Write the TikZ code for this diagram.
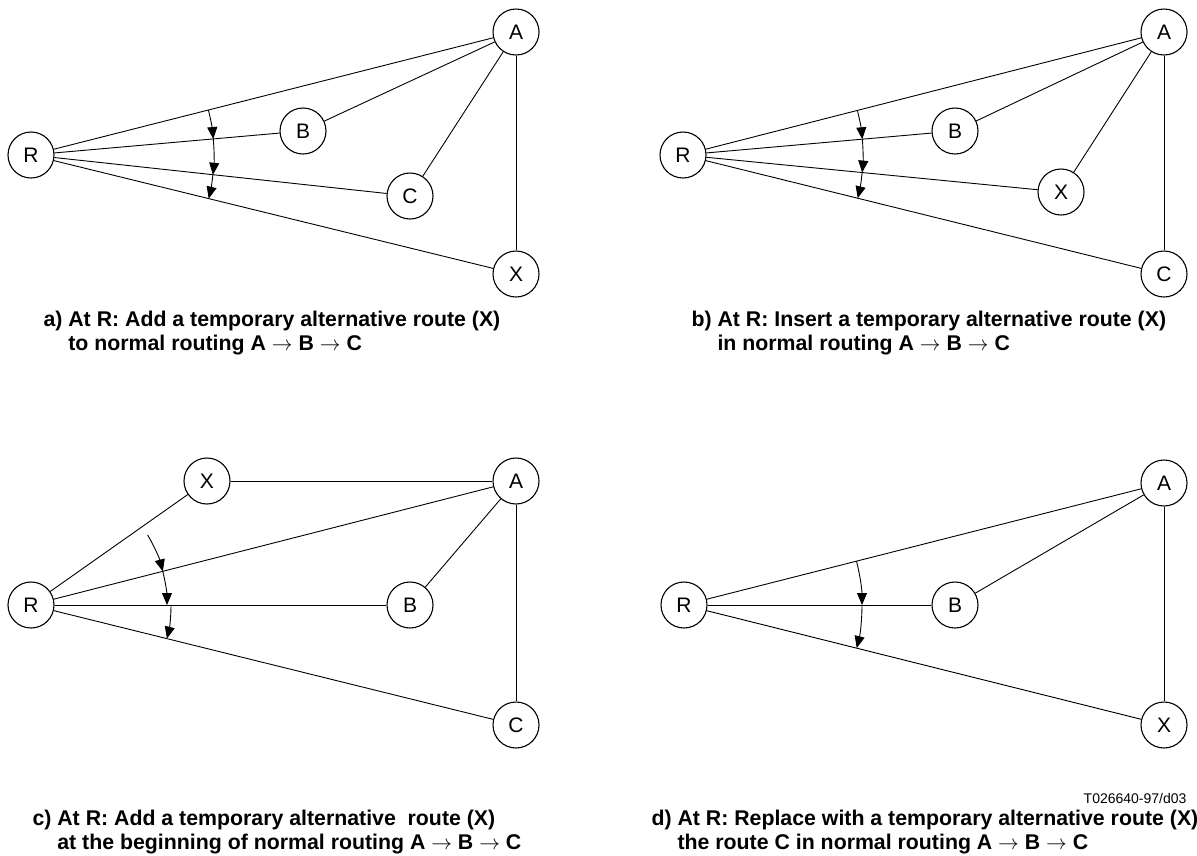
\documentclass[tikz,border=0pt]{standalone}
\usepackage{fontspec}
\setmainfont{Liberation Sans}
\usetikzlibrary{arrows.meta}

\begin{document}
\begin{tikzpicture}[>={Triangle[length=12pt,width=10pt]}, x=1pt, y=-1pt,
    stn/.style={circle, draw, line width=1.1pt, minimum size=46pt, inner sep=0pt, font=\fontsize{21}{21}\selectfont},
    link/.style={line width=0.9pt},
    swing/.style={->, line width=0.9pt},
    capt/.style={anchor=north west, align=left, font=\bfseries\fontsize{21.3}{24}\selectfont}]
    \useasboundingbox (0,0) rectangle (1197,855);

    % a)
    \node[stn] (Ra) at (31,155) {R};
    \node[stn] (Aa) at (516,32) {A};
    \node[stn] (Ba) at (303,131) {B};
    \node[stn] (Ca) at (410,196) {C};
    \node[stn] (Xa) at (516,274) {X};

    \draw[link] (Ra) -- (Aa);
    \draw[link] (Ra) -- (Ba);
    \draw[link] (Ra) -- (Ca);
    \draw[link] (Ra) -- (Xa);
    \draw[link] (Aa) -- (Ba);
    \draw[link] (Aa) -- (Ca);
    \draw[link] (Aa) -- (Xa);

    \draw[swing] ([shift={(-14.2:183)}]Ra.center) arc[start angle=-14.2, end angle=-5.0, radius=183];
    \draw[swing] ([shift={(-5.0:183)}]Ra.center) arc[start angle=-5.0, end angle=6.2, radius=183];
    \draw[swing] ([shift={(6.2:183)}]Ra.center) arc[start angle=6.2, end angle=13.8, radius=183];

    \node[capt] (capa) at (40,308) {a)\ At R: Add a temporary alternative route (X)\\\hphantom{a)\ }to normal routing A $\rightarrow$ B $\rightarrow$ C};

    % b)
    \node[stn] (Rb) at (683,155) {R};
    \node[stn] (Ab) at (1164,32) {A};
    \node[stn] (Bb) at (955,131) {B};
    \node[stn] (Xb) at (1061,192) {X};
    \node[stn] (Cb) at (1164,274) {C};

    \draw[link] (Rb) -- (Ab);
    \draw[link] (Rb) -- (Bb);
    \draw[link] (Rb) -- (Xb);
    \draw[link] (Rb) -- (Cb);
    \draw[link] (Ab) -- (Bb);
    \draw[link] (Ab) -- (Xb);
    \draw[link] (Ab) -- (Cb);

    \draw[swing] ([shift={(-14.3:180)}]Rb.center) arc[start angle=-14.3, end angle=-5.0, radius=180];
    \draw[swing] ([shift={(-5.0:180)}]Rb.center) arc[start angle=-5.0, end angle=5.6, radius=180];
    \draw[swing] ([shift={(5.6:180)}]Rb.center) arc[start angle=5.6, end angle=13.9, radius=180];

    \node[capt] (capb) at (688,308) {b)\ At R: Insert a temporary alternative route (X)\\\hphantom{b)\ }in normal routing A $\rightarrow$ B $\rightarrow$ C};

    % c)
    \node[stn] (Rc) at (31,605) {R};
    \node[stn] (Xc) at (207,481) {X};
    \node[stn] (Ac) at (516,481) {A};
    \node[stn] (Bc) at (410,605) {B};
    \node[stn] (Cc) at (516,725) {C};

    \draw[link] (Rc) -- (Xc);
    \draw[link] (Xc) -- (Ac);
    \draw[link] (Rc) -- (Ac);
    \draw[link] (Rc) -- (Bc);
    \draw[link] (Rc) -- (Cc);
    \draw[link] (Ac) -- (Bc);
    \draw[link] (Ac) -- (Cc);

    \draw[swing] ([shift={(-31:136)}]Rc.center) arc[start angle=-31, end angle=-14.3, radius=136];
    \draw[swing] ([shift={(-14.3:136)}]Rc.center) arc[start angle=-14.3, end angle=0, radius=136];
    \draw[swing] ([shift={(0:140)}]Rc.center) arc[start angle=0, end angle=13.9, radius=140];

    \node[capt] (capc) at (29,807) {c)\ At R: Add a temporary alternative\ \ route (X)\\\hphantom{c)\ }at the beginning of normal routing A $\rightarrow$ B $\rightarrow$ C};

    % d)
    \node[stn] (Rd) at (684,605) {R};
    \node[stn] (Ad) at (1164,483) {A};
    \node[stn] (Bd) at (955,605) {B};
    \node[stn] (Xd) at (1164,725) {X};

    \draw[link] (Rd) -- (Ad);
    \draw[link] (Rd) -- (Bd);
    \draw[link] (Rd) -- (Xd);
    \draw[link] (Ad) -- (Bd);
    \draw[link] (Ad) -- (Xd);

    \draw[swing] ([shift={(-14.3:178)}]Rd.center) arc[start angle=-14.3, end angle=0, radius=178];
    \draw[swing] ([shift={(0:178)}]Rd.center) arc[start angle=0, end angle=14.0, radius=178];

    \node[anchor=base east, font=\fontsize{14}{14}\selectfont] (tag) at (1190,803) {T026640-97/d03};

    \node[capt] (capd) at (648,807) {d)\ At R: Replace with a temporary alternative route (X)\\\hphantom{d)\ }the route C in normal routing A $\rightarrow$ B $\rightarrow$ C};
\end{tikzpicture}
\end{document}
